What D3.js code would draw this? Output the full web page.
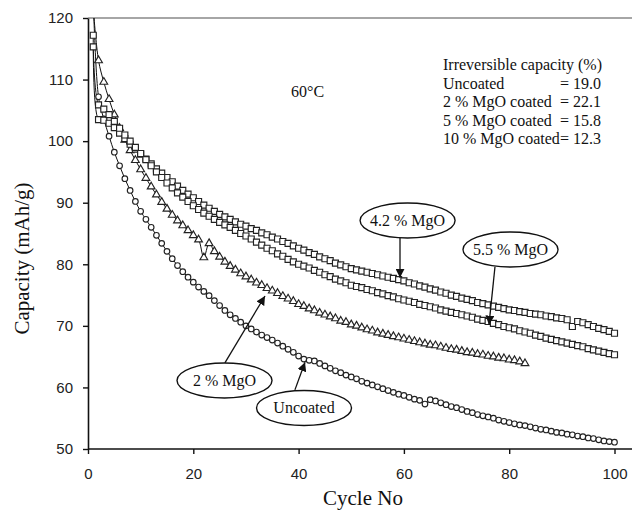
<!DOCTYPE html>
<html><head><meta charset="utf-8">
<script src="https://cdn.jsdelivr.net/npm/d3@7"></script>
<style>
body{margin:0;background:#fff;}
svg{display:block;}
.tick text{font-family:"Liberation Sans",Arial,sans-serif;font-size:15px;fill:#222;}
.serif{font-family:"Liberation Serif","Times New Roman",serif;fill:#111;}
</style></head>
<body><svg id="c" width="632" height="511"></svg>
<script>
// ---------------- data ----------------
const cycles = d3.range(1, 101);
const xTicks = [0, 20, 40, 60, 80, 100];
const yTicks = [50, 60, 70, 80, 90, 100, 110, 120];

const uncoated = [123.0,107.2,103.6,100.8,98.2,96.0,93.9,92.0,90.2,88.6,
87.3,86.0,84.7,83.4,82.1,80.9,79.8,78.8,77.9,77.1,
76.3,75.6,74.9,74.1,73.3,72.5,71.8,71.2,70.6,70.0,
69.5,69.0,68.5,68.1,67.7,67.2,66.7,66.2,65.7,65.1,
64.6,64.4,64.3,63.9,63.5,63.1,62.7,62.4,62.0,61.7,
61.4,61.0,60.7,60.4,60.1,59.8,59.5,59.2,58.9,58.7,
58.4,58.1,57.9,57.3,58.0,57.8,57.5,57.2,56.9,56.7,
56.4,56.1,55.9,55.6,55.4,55.2,55.0,54.7,54.5,54.3,
54.1,53.9,53.8,53.6,53.4,53.2,53.1,52.9,52.7,52.6,
52.4,52.3,52.1,52.0,51.8,51.7,51.5,51.3,51.2,51.1];

const mgo2 = [121.5,113.1,109.6,106.8,104.3,102.1,100.2,98.5,96.9,95.4,
94.0,92.6,91.3,90.1,89.0,88.0,87.1,86.3,85.5,84.7,
84.0,81.1,83.4,82.1,81.2,80.4,79.7,79.1,78.5,78.0,
77.5,77.0,76.6,76.1,75.7,75.3,74.8,74.4,74.0,73.5,
73.2,72.8,72.5,72.1,71.8,71.5,71.2,70.8,70.6,70.2,
70.0,69.7,69.4,69.2,68.9,68.7,68.5,68.3,68.1,67.9,
67.7,67.5,67.3,67.1,66.9,66.8,66.6,66.4,66.2,66.1,
65.9,65.7,65.6,65.4,65.3,65.1,65.0,64.8,64.7,64.5,
64.4,64.2,63.9];

const mgo42 = [117.2,103.5,103.4,102.9,102.2,101.3,100.4,99.5,98.7,97.9,
97.1,96.3,95.5,94.8,94.1,93.4,92.7,92.0,91.4,90.8,
90.2,89.6,89.1,88.6,88.1,87.7,87.3,86.9,86.5,86.2,
85.8,85.5,85.1,84.8,84.4,84.1,83.7,83.4,83.0,82.6,
82.3,81.9,81.6,81.2,80.9,80.6,80.2,79.9,79.6,79.3,
79.1,78.9,78.7,78.5,78.3,78.1,77.9,77.7,77.5,77.3,
77.0,76.8,76.5,76.3,76.0,75.8,75.5,75.3,75.0,74.8,
74.5,74.3,74.1,73.8,73.6,73.4,73.2,73.0,72.8,72.6,
72.5,72.3,72.2,72.0,71.9,71.8,71.6,71.5,71.3,71.2,
71.0,69.9,70.7,70.5,70.2,69.9,69.6,69.4,69.1,68.8];

const mgo55 = [115.3,105.9,105.2,104.3,103.2,102.1,101.0,100.0,99.0,98.0,
97.0,96.0,95.0,94.1,93.2,92.4,91.6,90.9,90.2,89.5,
88.9,88.3,87.8,87.3,86.8,86.4,86.0,85.5,85.0,84.6,
84.1,83.6,83.1,82.6,82.2,81.7,81.3,80.8,80.4,80.0,
79.7,79.4,79.0,78.7,78.3,78.0,77.6,77.3,77.0,76.6,
76.4,76.2,75.9,75.7,75.4,75.2,74.9,74.7,74.4,74.2,
74.0,73.8,73.5,73.3,73.1,72.9,72.6,72.4,72.2,72.0,
71.8,71.6,71.4,71.1,70.9,70.7,70.4,70.2,69.9,69.7,
69.5,69.2,69.0,68.8,68.5,68.3,68.0,67.8,67.6,67.4,
67.2,67.0,66.8,66.6,66.3,66.1,65.9,65.7,65.5,65.3];

const seriesNames = ["Uncoated", "2 % MgO", "4.2 % MgO", "5.5 % MgO"];
const seriesValues = [uncoated, mgo2, mgo42, mgo55];
const seriesMarkers = ["circle", "triangle", "square", "square"];

const infoLabels = ["Uncoated", "2 % MgO coated", "5 % MgO coated", "10 % MgO coated"];
const infoValues = ["= 19.0", "= 22.1", "= 15.8", "= 12.3"];

// callouts: label, ellipse centre (cycle, capacity), arrow start, arrow tip
const callouts = [
  {label:"4.2 % MgO", c:[60.7, 87.1],  a0:[59.26, 84.3], a1:[59.26, 77.8]},
  {label:"5.5 % MgO", c:[80.25, 82.4], a0:[77.3, 79.6],  a1:[76.16, 70.2]},
  {label:"2 % MgO",   c:[25.93, 61.13],a0:[26.0, 64.0],  a1:[33.62, 74.85]},
  {label:"Uncoated",  c:[41.03, 56.66],a0:[39.3, 59.6],  a1:[41.22, 64.1]}
];

// ---------------- layout ----------------
const L = 88, R = 614.5, T = 18, B = 449, W = 632;
const svg = d3.select("#c");
const x = d3.scaleLinear().domain([0, 100]).range([L, R]);
const y = d3.scaleLinear().domain([50, 120]).range([B, T]);

svg.append("defs").append("clipPath").attr("id","plot")
  .append("rect").attr("x", L).attr("y", T).attr("width", W - L).attr("height", B - T);
svg.select("defs").append("marker").attr("id","ah")
  .attr("viewBox","0 0 10 10").attr("refX",10).attr("refY",5)
  .attr("markerWidth",9).attr("markerHeight",9).attr("markerUnits","userSpaceOnUse")
  .attr("orient","auto")
  .append("path").attr("d","M0,0L10,5L0,10Z").attr("fill","#111");

// top frame line
svg.append("line").attr("x1", L).attr("x2", W).attr("y1", T).attr("y2", T)
  .attr("stroke", "#888").attr("stroke-width", 1.5);

// axes
const gx = svg.append("g").attr("transform", `translate(0,${B})`)
  .call(d3.axisBottom(x).tickValues(xTicks).tickSize(5).tickSizeOuter(0).tickPadding(14));
gx.select(".domain").attr("d", `M${L},0H${W}`);
const gy = svg.append("g").attr("transform", `translate(${L},0)`)
  .call(d3.axisLeft(y).tickValues(yTicks).tickSize(5).tickSizeOuter(0).tickPadding(10));
svg.selectAll(".domain").attr("stroke", "#111").attr("stroke-width", 1.6);
svg.selectAll(".tick line").attr("stroke", "#111").attr("stroke-width", 1.4);

// axis titles
svg.append("text").attr("class","serif")
  .attr("transform", `translate(29,${(T + B) / 2 + 25}) rotate(-90)`)
  .attr("text-anchor","middle").attr("font-size", 21).text("Capacity (mAh/g)");
svg.append("text").attr("class","serif")
  .attr("x", 363).attr("y", 505).attr("text-anchor","middle").attr("font-size", 21)
  .text("Cycle No");

// series
const plot = svg.append("g").attr("clip-path","url(#plot)");
const line = d3.line().x(d => x(d[0])).y(d => y(d[1])).curve(d3.curveCatmullRom);
seriesValues.forEach((vals, i) => {
  const pts = vals.map((v, k) => [cycles[k], v]);
  plot.append("path").datum(pts).attr("d", line)
    .attr("fill","none").attr("stroke","#111").attr("stroke-width",1);
});
seriesValues.forEach((vals, i) => {
  const pts = vals.map((v, k) => [cycles[k], v]);
  const g = plot.append("g").attr("fill","#fff").attr("stroke","#222").attr("stroke-width",1.15);
  if (seriesMarkers[i] === "circle") {
    g.selectAll("circle").data(pts).join("circle")
      .attr("cx", d => x(d[0])).attr("cy", d => y(d[1])).attr("r", 2.8);
  } else {
    const sym = d3.symbol().type(seriesMarkers[i] === "square" ? d3.symbolSquare : d3.symbolTriangle)
      .size(seriesMarkers[i] === "square" ? 36 : 26);
    g.selectAll("path").data(pts).join("path")
      .attr("transform", d => `translate(${x(d[0])},${y(d[1])})`).attr("d", sym);
  }
});

// temperature label
svg.append("text").attr("class","serif").attr("x", 291).attr("y", 97)
  .attr("font-size", 16).text("60°C");

// irreversible capacity info
const infoX = 443, infoR = 601, infoY0 = 70, infoDy = 18.5;
svg.append("text").attr("class","serif").attr("x", infoX).attr("y", infoY0)
  .attr("font-size", 16).text("Irreversible capacity (%)");
infoLabels.forEach((t, i) => {
  svg.append("text").attr("class","serif").attr("x", infoX).attr("y", infoY0 + infoDy * (i + 1))
    .attr("font-size", 16).text(t);
  svg.append("text").attr("class","serif").attr("x", infoR).attr("y", infoY0 + infoDy * (i + 1))
    .attr("text-anchor","end").attr("font-size", 16).text(infoValues[i]);
});

// callouts
callouts.forEach(co => {
  svg.append("line")
    .attr("x1", x(co.a0[0])).attr("y1", y(co.a0[1]))
    .attr("x2", x(co.a1[0])).attr("y2", y(co.a1[1]))
    .attr("stroke","#111").attr("stroke-width",1.3).attr("marker-end","url(#ah)");
  svg.append("ellipse").attr("cx", x(co.c[0])).attr("cy", y(co.c[1]))
    .attr("rx", 47.5).attr("ry", 17.5)
    .attr("fill","#fff").attr("stroke","#111").attr("stroke-width",1.4);
  svg.append("text").attr("class","serif").attr("x", x(co.c[0])).attr("y", y(co.c[1]) + 5.5)
    .attr("text-anchor","middle").attr("font-size", 16).text(co.label);
});
</script></body></html>
